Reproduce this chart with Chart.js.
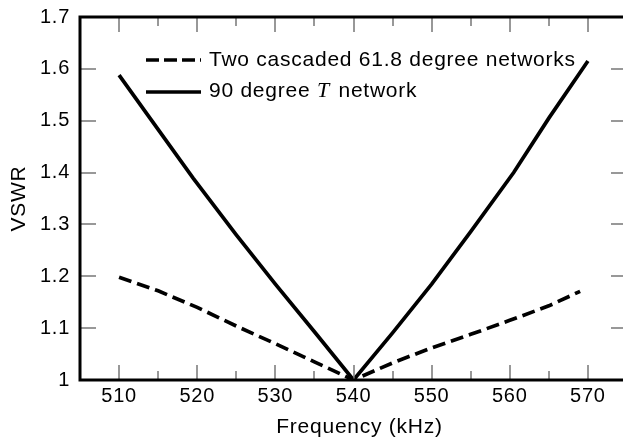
<!DOCTYPE html>
<html>
<head>
<meta charset="utf-8">
<script src="https://cdn.jsdelivr.net/npm/chart.js@4"></script>
<style>
  body { margin: 0; background: #fff; }
  #wrap { width: 623px; height: 439px; overflow: hidden; }
</style>
</head>
<body>
<div id="wrap"><canvas id="vswrChart" width="632" height="439"></canvas></div>
<script>
// 데이터
const freqT = [510, 514, 519.5, 525, 530, 535, 540, 545, 550, 555, 560.5, 565, 570];
const vswrT = [1.588, 1.504, 1.389, 1.28, 1.185, 1.093, 1.0, 1.091, 1.185, 1.286, 1.40, 1.505, 1.615];
const freqCascade = [510, 515, 520, 525, 530, 535, 540, 545, 550, 555, 560, 565, 569];
const vswrCascade = [1.198, 1.172, 1.14, 1.104, 1.07, 1.035, 1.0, 1.033, 1.062, 1.088, 1.115, 1.143, 1.171];
const xTicks = [510, 520, 530, 540, 550, 560, 570];
const xMinorTicks = [505, 515, 525, 535, 545, 555, 565, 575];
const yTicks = [1, 1.1, 1.2, 1.3, 1.4, 1.5, 1.6, 1.7];
const legendLabels = ['Two cascaded 61.8 degree networks', '90 degree ', 'T', ' network'];
const xTitle = 'Frequency (kHz)';

const toPoints = (xs, ys) => xs.map((x, i) => ({ x: x, y: ys[i] }));
const FONT = "'Liberation Sans', Arial, sans-serif";
const SPACING = '0.75px';

// 글자 간격 설정
const spacingPlugin = {
  id: 'spacing',
  beforeDraw(chart) { chart.ctx.letterSpacing = SPACING; }
};

// 테두리, 눈금, 범례 그리기
const framePlugin = {
  id: 'frame',
  afterDraw(chart) {
    const { ctx, chartArea: a, scales: { x, y } } = chart;
    ctx.save();
    // 눈금
    ctx.strokeStyle = '#777';
    ctx.lineWidth = 1.5;
    ctx.beginPath();
    xTicks.concat(xMinorTicks).forEach(v => {
      const px = Math.round(x.getPixelForValue(v));
      const len = xTicks.includes(v) ? 15 : 9;
      ctx.moveTo(px, a.bottom); ctx.lineTo(px, a.bottom - len);
      ctx.moveTo(px, a.top); ctx.lineTo(px, a.top + len);
    });
    yTicks.slice(1, -1).forEach(v => {
      const py = Math.round(y.getPixelForValue(v));
      ctx.moveTo(a.left, py); ctx.lineTo(a.left + 16, py);
      ctx.moveTo(a.right, py); ctx.lineTo(a.right - 16, py);
    });
    ctx.stroke();
    // 축 테두리
    ctx.strokeStyle = '#000';
    ctx.lineWidth = 3;
    ctx.strokeRect(a.left, a.top, a.right - a.left, a.bottom - a.top);

    ctx.fillStyle = '#000';
    ctx.letterSpacing = SPACING;
    // x축 제목
    ctx.font = '21px ' + FONT;
    ctx.textAlign = 'center';
    ctx.textBaseline = 'alphabetic';
    ctx.fillText(xTitle, (a.left + a.right) / 2 + 6, 433);

    // 범례
    ctx.lineWidth = 3.5;
    ctx.setLineDash([13, 5]);
    ctx.beginPath(); ctx.moveTo(146, 60); ctx.lineTo(201, 60); ctx.stroke();
    ctx.setLineDash([]);
    ctx.beginPath(); ctx.moveTo(146, 92); ctx.lineTo(201, 92); ctx.stroke();
    ctx.textAlign = 'left';
    ctx.fillText(legendLabels[0], 209, 66);
    let tx = 209;
    ctx.fillText(legendLabels[1], tx, 97);
    tx += ctx.measureText(legendLabels[1]).width;
    ctx.font = "italic 22px 'Liberation Serif', 'Times New Roman', serif";
    ctx.fillText(legendLabels[2], tx, 97);
    tx += ctx.measureText(legendLabels[2]).width + 2;
    ctx.font = '21px ' + FONT;
    ctx.fillText(legendLabels[3], tx, 97);
    ctx.restore();
  }
};

new Chart(document.getElementById('vswrChart'), {
  type: 'line',
  data: {
    datasets: [
      {
        label: 'Two cascaded 61.8 degree networks',
        data: toPoints(freqCascade, vswrCascade),
        borderColor: '#000',
        borderWidth: 3.7,
        borderDash: [13, 6],
        pointRadius: 0,
        tension: 0
      },
      {
        label: '90 degree T network',
        data: toPoints(freqT, vswrT),
        borderColor: '#000',
        borderWidth: 3.7,
        pointRadius: 0,
        tension: 0
      }
    ]
  },
  options: {
    responsive: false,
    animation: false,
    layout: { padding: { top: 17, right: 5, left: 0, bottom: 0 } },
    plugins: { legend: { display: false }, tooltip: { enabled: false } },
    scales: {
      x: {
        type: 'linear',
        min: 505,
        max: 575,
        afterBuildTicks: s => { s.ticks = xTicks.map(v => ({ value: v })); },
        afterFit: s => { s.height = 59; },
        grid: { display: false, drawTicks: false },
        border: { display: false },
        ticks: { color: '#000', font: { size: 20, family: FONT }, padding: 4, maxRotation: 0 }
      },
      y: {
        min: 1,
        max: 1.7,
        afterBuildTicks: s => { s.ticks = yTicks.map(v => ({ value: v })); },
        afterFit: s => { s.width = 80; s.paddingTop = 0; s.paddingBottom = 0; },
        grid: { display: false, drawTicks: false },
        border: { display: false },
        ticks: { color: '#000', font: { size: 20, family: FONT }, padding: 10, callback: v => String(Math.round(v * 10) / 10) },
        title: { display: true, text: 'VSWR', color: '#000', font: { size: 21, family: FONT }, padding: { top: 7, bottom: 0 } }
      }
    }
  },
  plugins: [spacingPlugin, framePlugin]
});
</script>
</body>
</html>
